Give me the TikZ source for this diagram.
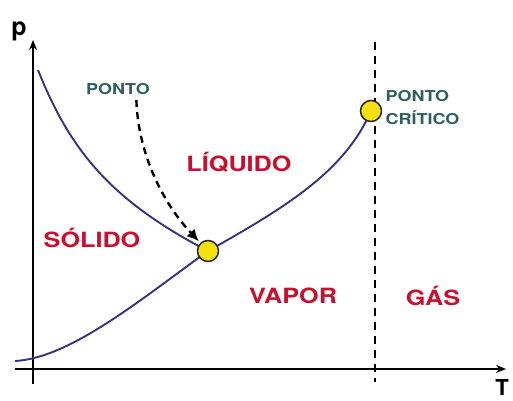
\documentclass[tikz,border=0pt]{standalone}
\usepackage{fontspec}
\setsansfont{TeX Gyre Heros}
\newfontfamily\phasefont[FakeStretch=1.2]{TeX Gyre Heros}
\usetikzlibrary{arrows.meta}
\definecolor{fasered}{HTML}{C8102E}
\definecolor{pontoteal}{HTML}{2E5E60}
\definecolor{curveblue}{HTML}{34347C}
\definecolor{pontoyellow}{HTML}{F5E10F}
\tikzset{
  fase/.style={text=fasered,font=\phasefont\bfseries\fontsize{21}{21}\selectfont},
  rotulo/.style={text=pontoteal,font=\phasefont\bfseries\fontsize{15}{23}\selectfont},
  curva/.style={draw=curveblue,line width=1.9pt},
  ponto/.style={circle,draw=black!85,fill=pontoyellow,line width=1.5pt,minimum size=21pt,inner sep=0pt},
  eixo/.style={line width=2.6pt,-{Stealth[length=10pt,width=8pt]}},
}
\begin{document}
\begin{tikzpicture}[x=1pt,y=-1pt]
\useasboundingbox (0,0) rectangle (513,400);
% eixos
\coordinate (ybase) at (33,384);
\coordinate (ytopo) at (33,40);
\coordinate (xbase) at (15,369);
\coordinate (xtopo) at (506,369);
\draw[eixo] (ybase) -- (ytopo);
\draw[eixo] (xbase) -- (xtopo);
\node[font=\sffamily\bfseries\fontsize{25}{25}\selectfont] (p) at (19,31) {p};
\node[anchor=south,inner sep=0pt,font=\sffamily\bfseries\fontsize{22}{22}\selectfont] (T) at (502,396) {T};
% linha critica
\coordinate (ctopo) at (375,42);
\coordinate (cbase) at (375,382);
\draw[line width=2.2pt,dash pattern=on 8pt off 6pt] (ctopo) -- (cbase);
% curvas
\coordinate (fusao) at (38,70);
\coordinate (sublim) at (15,361);
\coordinate (tp) at (208,251);
\coordinate (cp) at (371,111);
\draw[curva] (fusao) .. controls (70,150) and (110,200) .. (tp);
\draw[curva] (sublim) .. controls (70,358) and (140,300) .. (tp);
\draw[curva] (tp) .. controls (290,205) and (345,170) .. (cp);
\node[ponto] (triplo) at (tp) {};
\node[ponto] (critico) at (cp) {};
% rotulos
\node[rotulo] (pontolbl) at (118,89) {PONTO};
\node[rotulo,anchor=west,align=left] (critlbl) at (382,108) {PONTO\\CRÍTICO};
\draw[line width=2.4pt,dash pattern=on 7pt off 5pt,-{Latex[length=12pt,width=11pt]},shorten >=2pt]
  ([xshift=-17pt,yshift=-2pt]pontolbl.south east) .. controls (138,150) and (160,200) .. (triplo);
\node[fase] (liquido) at (239,162) {LÍQUIDO};
\node[fase] (solido) at (92,238) {SÓLIDO};
\node[fase] (vapor) at (293,296) {VAPOR};
\node[fase] (gas) at (433,296) {GÁS};
\end{tikzpicture}
\end{document}
